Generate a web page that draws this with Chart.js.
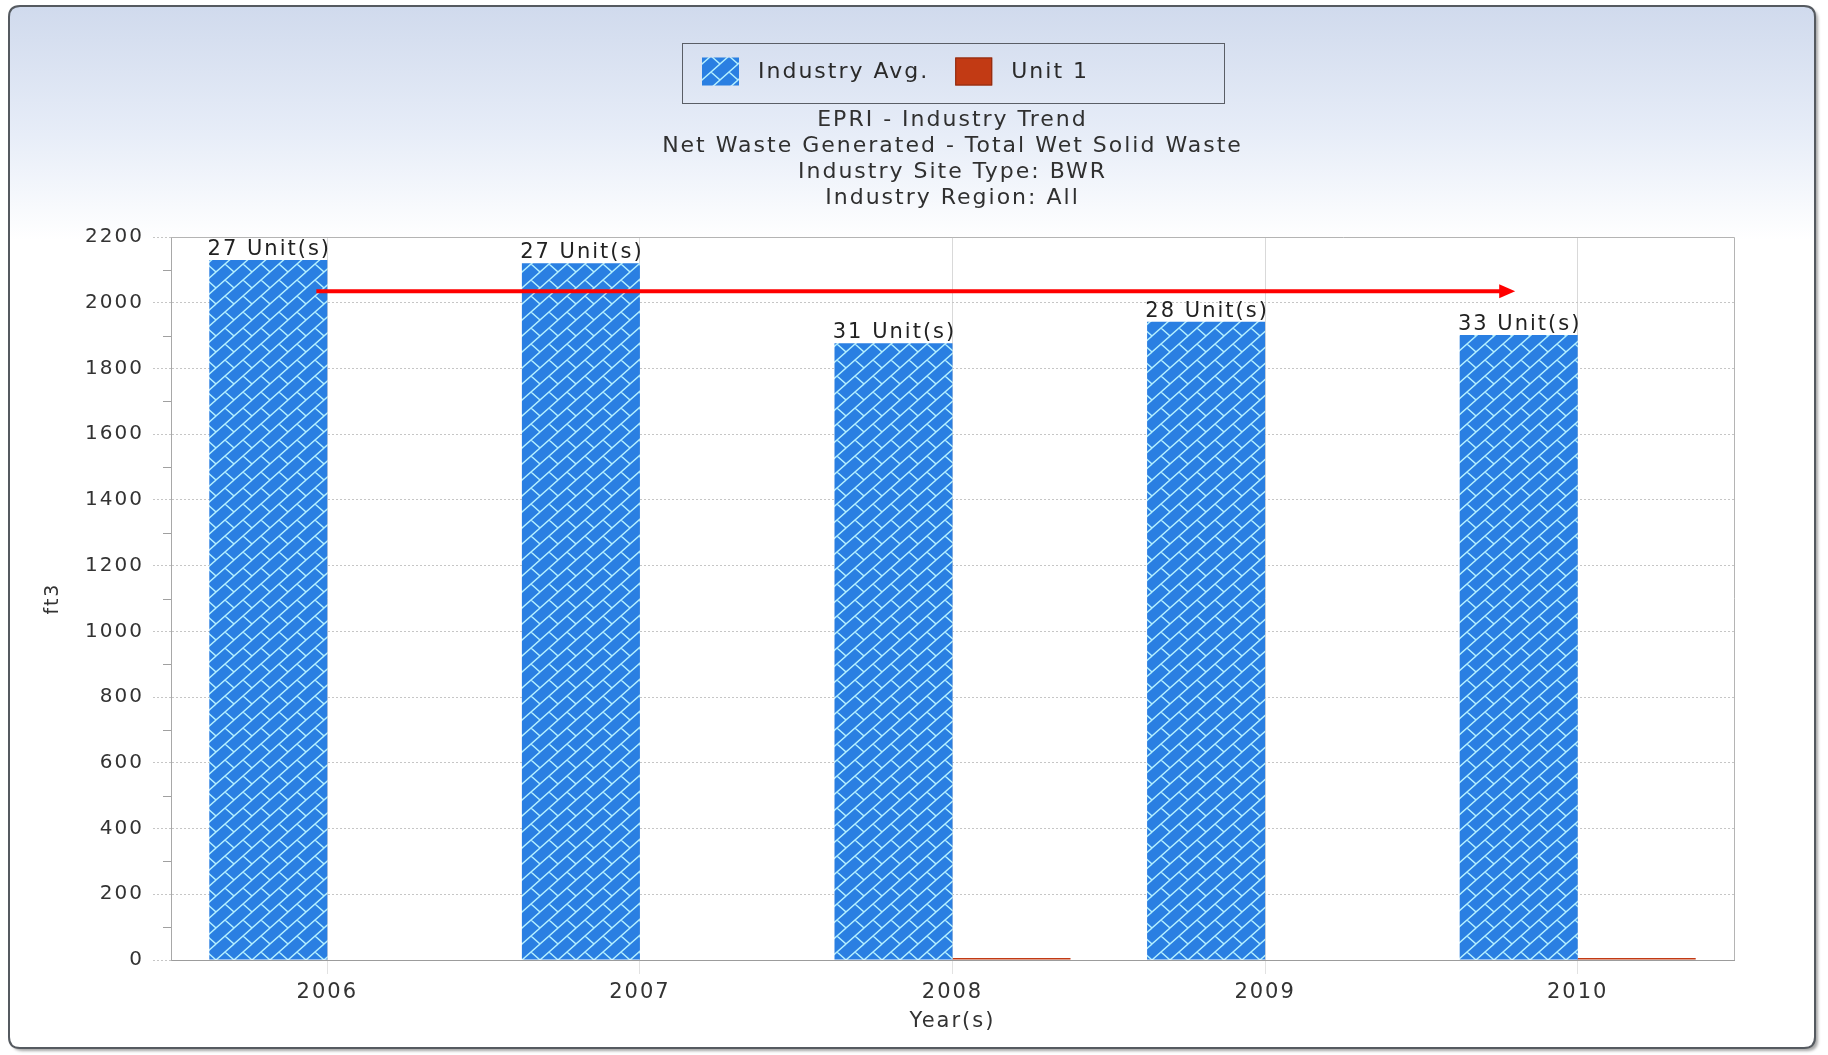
<!DOCTYPE html>
<html>
<head>
<meta charset="utf-8">
<script src="https://cdn.jsdelivr.net/npm/chart.js@4.4.1/dist/chart.umd.min.js"></script>
<style>
  html, body { margin: 0; padding: 0; background: #ffffff; overflow: hidden; }
  #wrap { width: 1828px; height: 1055px; position: relative; }
  canvas { display: block; }
</style>
</head>
<body>
<div id="wrap"><canvas id="chart" width="1828" height="1055"></canvas></div>
<script>
// Net waste generated per year, ft3
const years = ['2006', '2007', '2008', '2009', '2010'];
const industryAvg = [2130, 2120, 1877, 1942, 1902];
const unit1 = [0, 0, 6, 0, 6];
const unitCounts = [27, 27, 31, 28, 33];
const seriesNames = ['Industry Avg.', 'Unit 1'];
const titleLines = [
  'EPRI - Industry Trend',
  'Net Waste Generated - Total Wet Solid Waste',
  'Industry Site Type: BWR',
  'Industry Region: All'
];
const yMin = 0, yMax = 2200, yStep = 200, yMinorStep = 100;
// trend arrow, in category index / ft3 units
const trendArrow = { fromIndex: -0.035, toIndex: 3.8, value: 2035 };

const FONT = '"DejaVu Sans", "Liberation Sans", Arial, sans-serif';
const SPACING = '2px';

// diagonal-brick hatch used for the industry average bars
function brickPattern() {
  const w = 18, h = 16;
  const t = document.createElement('canvas');
  t.width = w; t.height = h;
  const g = t.getContext('2d');
  g.fillStyle = '#2a7fe2';
  g.fillRect(0, 0, w, h);
  g.strokeStyle = '#b4f0ff';
  g.lineWidth = 1.4;
  const segs = [
    [w, 0, 0, h],          // long "/" stroke
    [w / 2, h / 2, w, h]   // short "\" joint
  ];
  g.beginPath();
  for (const [x1, y1, x2, y2] of segs) {
    for (const dx of [-w, 0, w]) {
      for (const dy of [-h, 0, h]) {
        g.moveTo(x1 + dx, y1 + dy);
        g.lineTo(x2 + dx, y2 + dy);
      }
    }
  }
  g.stroke();
  return g.createPattern(t, 'repeat');
}
const hatch = brickPattern();
const unitRed = '#c23a14';

function roundRectPath(ctx, x, y, w, h, r) {
  ctx.beginPath();
  ctx.moveTo(x + r, y);
  ctx.lineTo(x + w - r, y);
  ctx.quadraticCurveTo(x + w, y, x + w, y + r);
  ctx.lineTo(x + w, y + h - r);
  ctx.quadraticCurveTo(x + w, y + h, x + w - r, y + h);
  ctx.lineTo(x + r, y + h);
  ctx.quadraticCurveTo(x, y + h, x, y + h - r);
  ctx.lineTo(x, y + r);
  ctx.quadraticCurveTo(x, y, x + r, y);
  ctx.closePath();
}

// wide text tracking for every label on the canvas
const spacingPlugin = {
  id: 'spacing',
  beforeUpdate(chart) { chart.ctx.letterSpacing = SPACING; },
  beforeLayout(chart) { chart.ctx.letterSpacing = SPACING; },
  beforeDraw(chart) { chart.ctx.letterSpacing = SPACING; }
};

// rounded panel with a soft blue top
const panelPlugin = {
  id: 'panel',
  beforeDraw(chart) {
    const ctx = chart.ctx;
    const W = chart.width, H = chart.height;
    const x = 9, y = 6, w = W - 9 - 13, h = H - 6 - 7;
    ctx.save();
    ctx.fillStyle = '#ffffff';
    ctx.fillRect(0, 0, W, H);
    const grad = ctx.createLinearGradient(0, y, 0, 240);
    grad.addColorStop(0, '#d0daed');
    grad.addColorStop(0.55, '#e7edf8');
    grad.addColorStop(1, '#ffffff');
    roundRectPath(ctx, x, y, w, h, 11);
    ctx.shadowColor = 'rgba(0,0,0,0.35)';
    ctx.shadowOffsetX = 3;
    ctx.shadowOffsetY = 3;
    ctx.shadowBlur = 3;
    ctx.fillStyle = grad;
    ctx.fill();
    ctx.shadowColor = 'transparent';
    ctx.lineWidth = 2;
    ctx.strokeStyle = '#555a60';
    ctx.stroke();
    const a = chart.chartArea;
    ctx.fillStyle = '#ffffff';
    ctx.fillRect(a.left, a.top, a.right - a.left, a.bottom - a.top);
    ctx.restore();
  },
  beforeDatasetsDraw(chart) {
    const ctx = chart.ctx, a = chart.chartArea, ys = chart.scales.y;
    ctx.save();
    // plot frame top and right
    ctx.strokeStyle = '#b4b4b4';
    ctx.lineWidth = 1;
    ctx.beginPath();
    ctx.moveTo(a.left, a.top + 0.5);
    ctx.lineTo(a.right + 0.5, a.top + 0.5);
    ctx.lineTo(a.right + 0.5, a.bottom);
    ctx.stroke();
    // minor ticks on the value axis
    ctx.strokeStyle = '#a0a0a0';
    ctx.beginPath();
    for (let v = yMin + yMinorStep; v < yMax; v += yStep) {
      const py = Math.round(ys.getPixelForValue(v)) + 0.5;
      ctx.moveTo(a.left - 8, py);
      ctx.lineTo(a.left, py);
    }
    ctx.stroke();
    ctx.restore();
  }
};

// unit counts above each industry bar and the trend arrow
const annotatePlugin = {
  id: 'annotate',
  afterDatasetsDraw(chart) {
    const ctx = chart.ctx;
    const meta = chart.getDatasetMeta(0);
    ctx.save();
    ctx.letterSpacing = SPACING;
    ctx.font = '21px ' + FONT;
    ctx.fillStyle = '#222222';
    ctx.textAlign = 'center';
    ctx.textBaseline = 'alphabetic';
    meta.data.forEach((bar, i) => {
      ctx.fillText(unitCounts[i] + ' Unit(s)', bar.x + 1, bar.y - 5);
    });

    const xs = chart.scales.x, ys = chart.scales.y;
    const x0 = xs.getPixelForValue(trendArrow.fromIndex);
    const x1 = xs.getPixelForValue(trendArrow.toIndex);
    const py = ys.getPixelForValue(trendArrow.value);
    const head = 16, half = 7;
    ctx.strokeStyle = '#ff0000';
    ctx.fillStyle = '#ff0000';
    ctx.lineWidth = 4;
    ctx.beginPath();
    ctx.moveTo(x0, py);
    ctx.lineTo(x1 - head + 1, py);
    ctx.stroke();
    ctx.beginPath();
    ctx.moveTo(x1, py);
    ctx.lineTo(x1 - head, py - half);
    ctx.lineTo(x1 - head, py + half);
    ctx.closePath();
    ctx.fill();
    ctx.restore();
  }
};

// boxed legend above the titles
const legendBoxPlugin = {
  id: 'legendBox',
  afterDraw(chart) {
    const ctx = chart.ctx, a = chart.chartArea;
    const cx = (a.left + a.right) / 2;
    const bw = 542, bh = 60, bx = Math.round(cx - bw / 2) + 0.5, by = 43.5;
    ctx.save();
    ctx.letterSpacing = SPACING;
    ctx.strokeStyle = '#5a5e66';
    ctx.lineWidth = 1;
    ctx.strokeRect(bx, by, bw, bh);
    ctx.font = '22px ' + FONT;
    ctx.textBaseline = 'middle';
    ctx.textAlign = 'left';
    const sw = 37, sh = 28, sy = by + 14;
    let x = bx + 19.5;
    chart.data.datasets.forEach((ds, i) => {
      ctx.fillStyle = ds.backgroundColor;
      ctx.fillRect(x, sy, sw, sh);
      if (i === 1) {
        ctx.strokeStyle = '#8a2a10';
        ctx.strokeRect(x + 0.5, sy + 0.5, sw - 1, sh - 1);
      }
      x += sw + 19;
      ctx.fillStyle = '#2a2a2a';
      ctx.fillText(ds.label, x, sy + sh / 2 + 1);
      x += ctx.measureText(ds.label).width + 26;
    });
    ctx.restore();
  }
};

new Chart(document.getElementById('chart'), {
  type: 'bar',
  data: {
    labels: years,
    datasets: [
      {
        label: seriesNames[0],
        data: industryAvg,
        backgroundColor: hatch,
        borderWidth: 0,
        categoryPercentage: 0.755,
        barPercentage: 1.0
      },
      {
        label: seriesNames[1],
        data: unit1,
        backgroundColor: unitRed,
        borderWidth: 0,
        categoryPercentage: 0.755,
        barPercentage: 1.0
      }
    ]
  },
  options: {
    responsive: false,
    animation: false,
    devicePixelRatio: 1,
    layout: { padding: { top: 107, left: 30, right: 94, bottom: 20 } },
    plugins: {
      legend: { display: false },
      tooltip: { enabled: false },
      title: {
        display: true,
        fullSize: false,
        text: titleLines,
        color: '#303030',
        font: { family: FONT, size: 22, weight: 'normal', lineHeight: '26px' },
        padding: { top: 0, bottom: 26 }
      }
    },
    scales: {
      x: {
        offset: true,
        afterFit(scale) { scale.height = 75; },
        grid: {
          offset: false,
          color: '#d9d9d9',
          lineWidth: 1,
          tickLength: 14,
          tickColor: '#e2e2e2'
        },
        border: { display: true, color: '#9c9c9c', width: 1 },
        ticks: {
          color: '#333333',
          padding: 6,
          font: { family: FONT, size: 21 }
        },
        title: {
          display: true,
          text: 'Year(s)',
          color: '#333333',
          font: { family: FONT, size: 21 },
          padding: { top: 0, bottom: 1 }
        }
      },
      y: {
        min: yMin,
        max: yMax,
        afterFit(scale) { scale.width = 141; },
        ticks: {
          stepSize: yStep,
          color: '#333333',
          padding: 9,
          font: { family: FONT, size: 20 },
          callback: (v) => String(v)
        },
        grid: {
          color: '#c6c6c6',
          lineWidth: 1,
          tickLength: 18,
          tickColor: '#c6c6c6',
          tickBorderDash: [2, 2]
        },
        border: { display: true, color: '#a8a8a8', width: 1, dash: [2, 2] },
        title: {
          display: true,
          text: 'ft3',
          color: '#333333',
          font: { family: FONT, size: 19 },
          padding: { top: 12, bottom: 0 }
        }
      }
    }
  },
  plugins: [spacingPlugin, panelPlugin, annotatePlugin, legendBoxPlugin]
});
</script>
</body>
</html>
